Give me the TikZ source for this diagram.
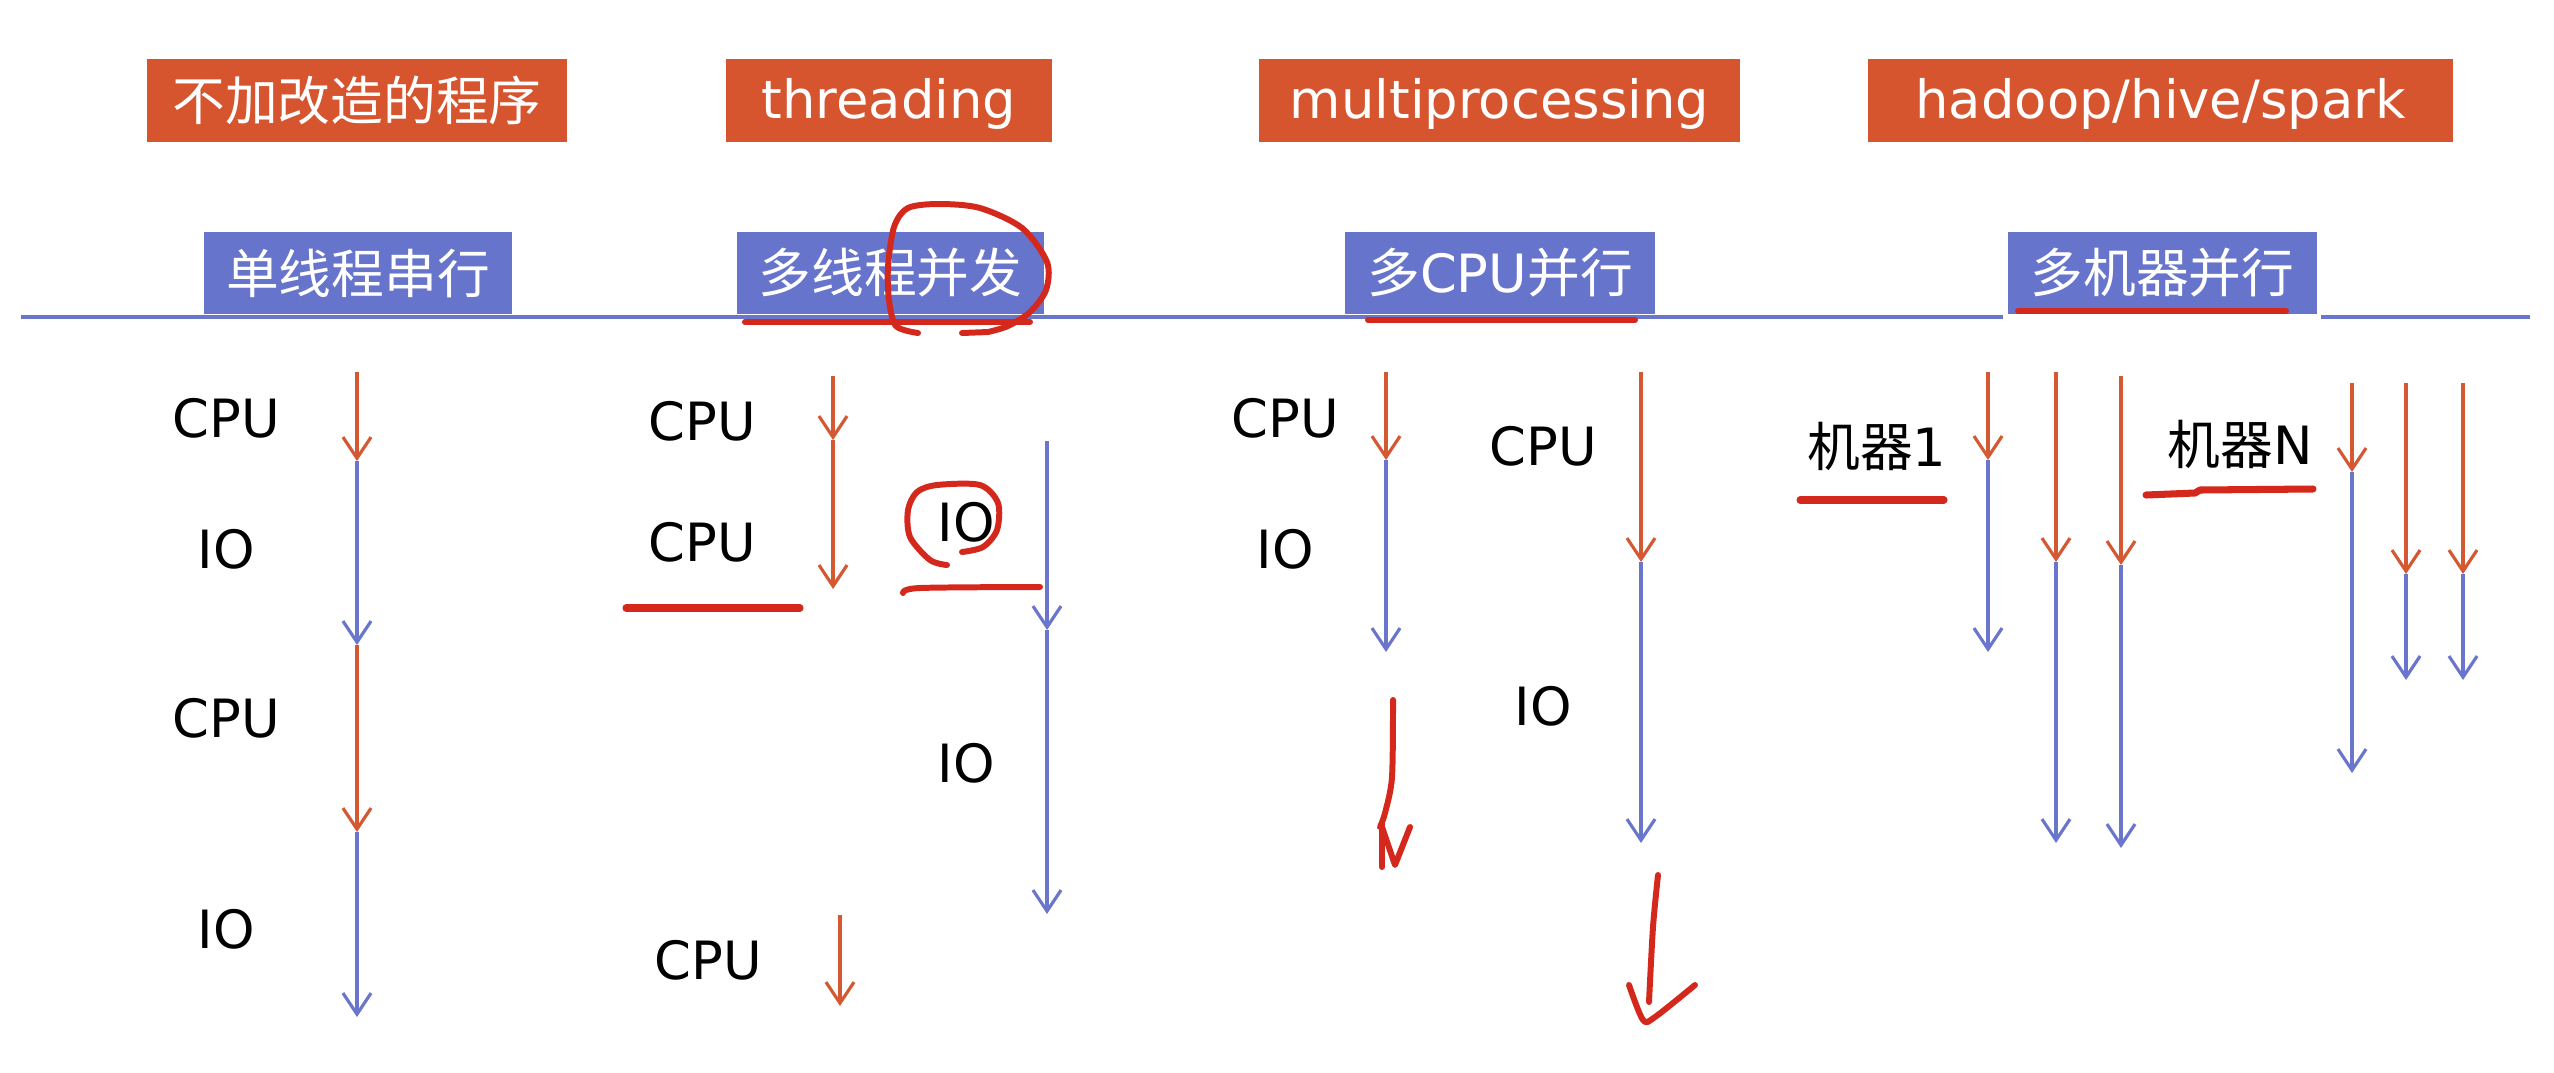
\documentclass[tikz,border=0pt]{standalone}
\usepackage{fontspec}
\setmainfont{DejaVu Sans}
\newfontfamily\cjk{Noto Sans CJK SC}
\usetikzlibrary{arrows.meta}
\definecolor{boxorange}{RGB}{214,84,46}
\definecolor{boxblue}{RGB}{103,116,203}
\definecolor{cpuline}{RGB}{212,88,50}
\definecolor{ioline}{RGB}{106,117,204}
\definecolor{pen}{RGB}{212,40,28}
\begin{document}
\begin{tikzpicture}[x=0.01cm,y=-0.01cm,
  font=\fontsize{15}{18}\selectfont,
  toptag/.style={fill=boxorange,text=white,minimum height=0.83cm,inner sep=0pt},
  modetag/.style={fill=boxblue,text=white,minimum height=0.82cm,inner sep=0pt},
  lbl/.style={text=black,inner sep=0pt},
  flow/.style={line width=0.9pt,-{Straight Barb[length=6pt,width=8pt,line width=0.9pt]}},
  cpu/.style={flow,draw=cpuline},
  io/.style={flow,draw=ioline},
  ink/.style={draw=pen,line width=1.7pt,line cap=round,line join=round},
  axis/.style={draw=ioline,line width=1.3pt},
]
\useasboundingbox (0,0) rectangle (2554,1072);

% baseline
\coordinate (L0) at (21,317);
\coordinate (L1) at (2003,317);
\coordinate (L2) at (2321,317);
\coordinate (L3) at (2530,317);
\draw[axis] (L0) -- (L1);
\draw[axis] (L2) -- (L3);

% library tags
\node[toptag,minimum width=4.20cm] (t1) at (357,100.5) {\cjk 不加改造的程序};
\node[toptag,minimum width=3.26cm,text depth=0.25ex] (t2) at (889,100.5) {threading};
\node[toptag,minimum width=4.81cm,text depth=0.25ex] (t3) at (1499.5,100.5) {multiprocessing};
\node[toptag,minimum width=5.85cm,text depth=0.25ex] (t4) at (2160.5,100.5) {hadoop/hive/spark};

% execution modes
\node[modetag,minimum width=3.08cm] (m1) at (358,273) {\cjk 单线程串行};
\node[modetag,minimum width=3.07cm] (m2) at (890.5,273) {\cjk 多线程并发};
\node[modetag,minimum width=3.10cm] (m3) at (1500,273) {{\cjk 多}CPU{\cjk 并行}};
\node[modetag,minimum width=3.09cm] (m4) at (2162.5,273) {\cjk 多机器并行};

% single thread, serial
\coordinate (a0) at (357,372);
\coordinate (a1) at (357,461);
\coordinate (a2) at (357,645);
\coordinate (a3) at (357,832);
\coordinate (a4) at (357,1017);
\draw[cpu] (a0) -- (a1);
\draw[io]  (a1) -- (a2);
\draw[cpu] (a2) -- (a3);
\draw[io]  (a3) -- (a4);
\node[lbl] (s1) at (226,418) {CPU};
\node[lbl] (s2) at (226,549) {IO};
\node[lbl] (s3) at (226,718) {CPU};
\node[lbl] (s4) at (226,929) {IO};

% multithreading
\coordinate (b0) at (833,376);
\coordinate (b1) at (833,440);
\coordinate (b2) at (833,589);
\coordinate (c0) at (1047,441);
\coordinate (c1) at (1047,630);
\coordinate (c2) at (1047,914);
\coordinate (d0) at (840,915);
\coordinate (d1) at (840,1006);
\draw[cpu] (b0) -- (b1);
\draw[cpu] (b1) -- (b2);
\draw[io]  (c0) -- (c1);
\draw[io]  (c1) -- (c2);
\draw[cpu] (d0) -- (d1);
\node[lbl] (r1) at (702,421) {CPU};
\node[lbl] (r2) at (702,542) {CPU};
\node[lbl] (r3) at (966,522) {IO};
\node[lbl] (r4) at (966,763) {IO};
\node[lbl] (r5) at (708,960) {CPU};

% multiprocessing
\coordinate (e0) at (1386,372);
\coordinate (e1) at (1386,460);
\coordinate (e2) at (1386,652);
\coordinate (f0) at (1641,372);
\coordinate (f1) at (1641,562);
\coordinate (f2) at (1641,843);
\draw[cpu] (e0) -- (e1);
\draw[io]  (e1) -- (e2);
\draw[cpu] (f0) -- (f1);
\draw[io]  (f1) -- (f2);
\node[lbl] (p1) at (1285,418) {CPU};
\node[lbl] (p2) at (1285,549) {IO};
\node[lbl] (p3) at (1543,446) {CPU};
\node[lbl] (p4) at (1543,706) {IO};

% several machines
\foreach \n/\x/\ya/\yb/\yc in {g1/1988/372/460/652, g2/2056/372/562/843, g3/2121/376/565/848,
                                 h1/2352/383/472/773, h2/2406/383/574/680, h3/2463/383/574/680}{
  \coordinate (\n-0) at (\x,\ya);
  \coordinate (\n-1) at (\x,\yb);
  \coordinate (\n-2) at (\x,\yc);
  \draw[cpu] (\n-0) -- (\n-1);
  \draw[io]  (\n-1) -- (\n-2);
}
\node[lbl] (k1) at (1877,446) {{\cjk 机器}1};
\node[lbl] (kN) at (2240,444) {{\cjk 机器}N};

% pen marks
\draw[ink] (745,322) -- (1030,322);
\draw[ink] plot[smooth] coordinates {(918,333) (896,326) (889,300) (888,267) (894,227) (908,208) (939,204) (980,208) (1022,228) (1047,262) (1046,290) (1030,312) (1008,326) (988,332)};
\draw[ink] (988,332) -- (962,333);
\draw[ink] (1368,320) -- (1635,320);
\draw[ink] (2018,311) -- (2286,311);
\draw[ink,line width=2pt] (626,608) -- (800,608);
\draw[ink] plot[smooth] coordinates {(947,565) (930,560) (910,537) (908,510) (917,492) (937,485) (980,485) (998,503) (997,530) (983,547) (962,552)};
\draw[ink] plot[smooth] coordinates {(903,593) (920,588) (1040,587)};
\draw[ink,line width=2pt] (1800,500) -- (1944,500);
\draw[ink,line width=2pt] (2146,495) -- (2195,493) -- (2200,490) -- (2313,489);
\draw[ink] plot[smooth] coordinates {(1393,700) (1392,777) (1385,813) (1380,827)};
\draw[ink] (1382,823) -- (1382,867);
\draw[ink] (1382,827) -- (1395,865) -- (1410,827);
\draw[ink] plot[smooth] coordinates {(1658,875) (1653,927) (1649,1002)};
\draw[ink] plot[smooth] coordinates {(1629,985) (1643,1020) (1655,1017) (1695,985)};
\end{tikzpicture}
\end{document}
